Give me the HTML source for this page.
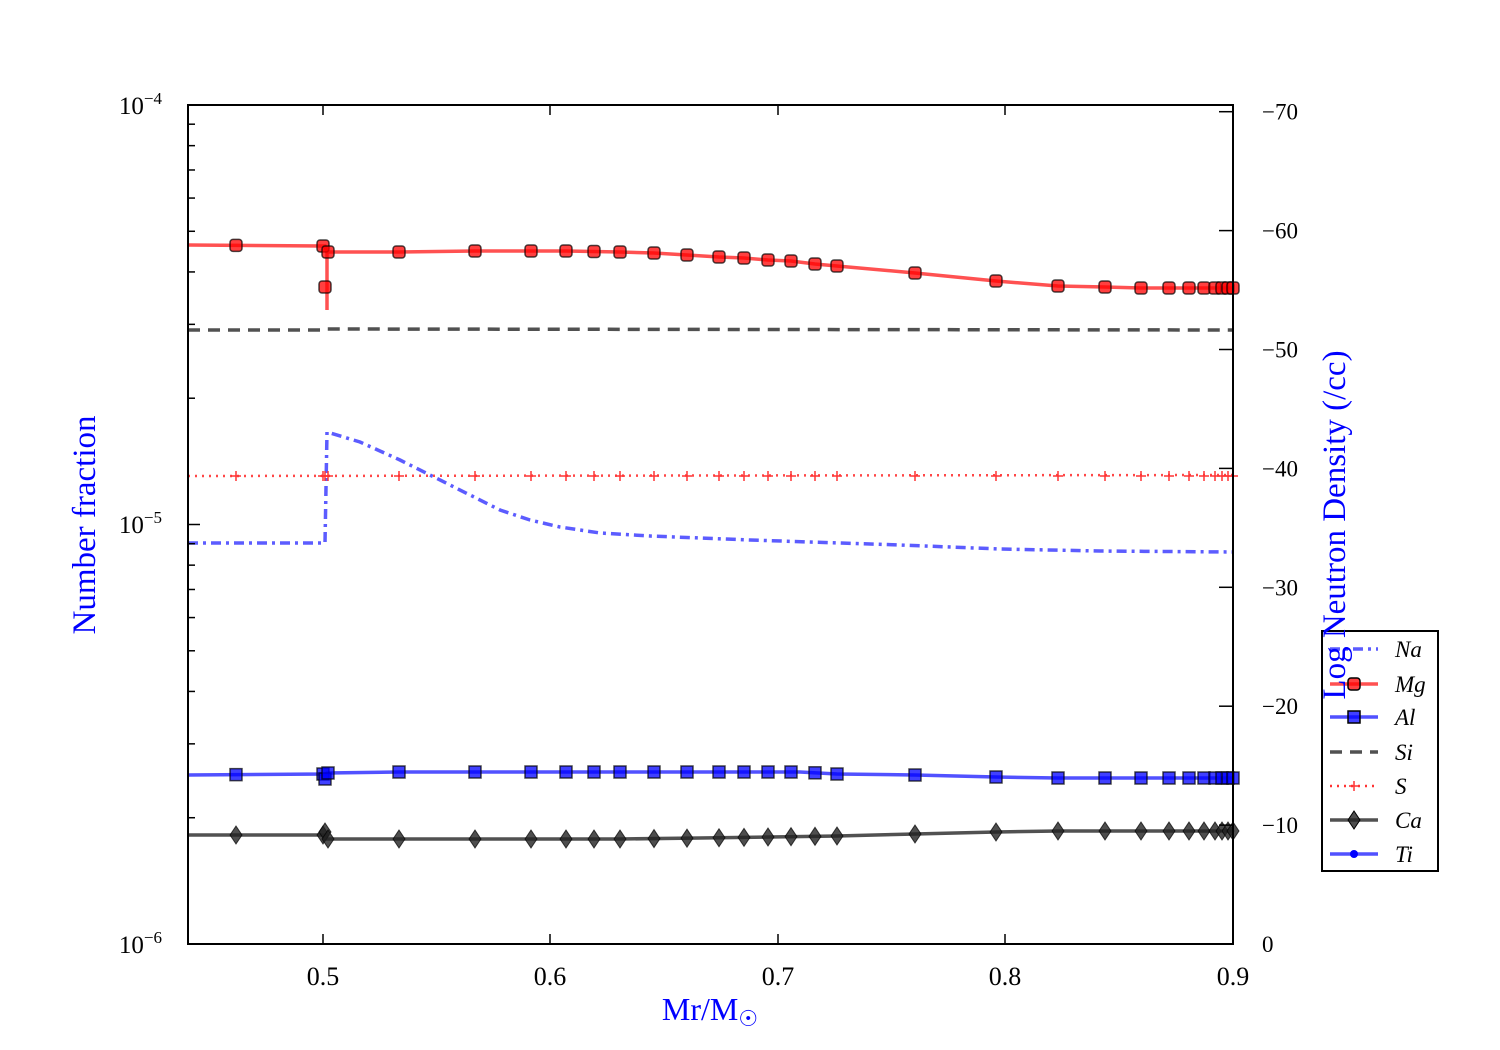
<!DOCTYPE html>
<html><head><meta charset="utf-8"><style>
html,body{margin:0;padding:0;background:#fff;}
svg{display:block;font-family:"Liberation Serif",serif;}
</style></head><body>
<svg id="s" width="1500" height="1050" xmlns="http://www.w3.org/2000/svg">
<g id="data"></g>
<rect x="188" y="105" width="1045" height="839" fill="none" stroke="#000" stroke-width="2"/>
<g id="ticks" stroke="#000" stroke-width="1.5"></g>
<g font-size="26" text-anchor="middle">
<text x="323" y="985">0.5</text><text x="550" y="985">0.6</text><text x="778" y="985">0.7</text><text x="1005" y="985">0.8</text><text x="1233" y="985">0.9</text>
</g>
<g font-size="25" text-anchor="end">
<text x="162" y="114">10<tspan font-size="17" dy="-10">−4</tspan></text>
<text x="162" y="533">10<tspan font-size="17" dy="-10">−5</tspan></text>
<text x="162" y="953">10<tspan font-size="17" dy="-10">−6</tspan></text>
</g>
<g font-size="23" id="rl"></g>
<text x="95" y="525" font-size="33" fill="#0000ff" text-anchor="middle" transform="rotate(-90 95 525)">Number fraction</text>
<g id="leg"></g>
<text x="1345" y="525" font-size="33" fill="#0000ff" text-anchor="middle" transform="rotate(-90 1345 525)">Log Neutron Density (/cc)</text>
<text x="710" y="1020" font-size="32" fill="#0000ff" text-anchor="middle">Mr/M<tspan font-size="22" dy="6">☉</tspan></text>
</svg>
<script>
const NS="http://www.w3.org/2000/svg";
function el(p,t,a){const e=document.createElementNS(NS,t);for(const k in a)e.setAttribute(k,a[k]);p.appendChild(e);return e;}
const D=document.getElementById('data'),T=document.getElementById('ticks'),R=document.getElementById('rl'),L=document.getElementById('leg');
[323,550,778,1005,1233].forEach(x=>{el(T,'line',{x1:x,y1:944,x2:x,y2:934});el(T,'line',{x1:x,y1:105,x2:x,y2:115});});
for(let d=-6;d<-4;d++)for(let m=1;m<10;m++){const v=Math.log10(m)+d+6;const y=944-419.5*v;const len=m==1?12:7;el(T,'line',{x1:188,y1:y,x2:188+len,y2:y});}
el(T,'line',{x1:188,y1:105,x2:200,y2:105});
for(let i=0;i<=7;i++){const y=944-118.9*i;el(T,'line',{x1:1233,y1:y,x2:1219,y2:y});const t=el(R,'text',{x:1262,y:y+8});t.textContent=i==0?'0':'−'+(i*10);}
const xs=[236,323,325,328,399,475,531,566,594,620,654,687,719,744,768,791,815,837,915,996,1058,1105,1141,1169,1189,1204,1215,1222,1228,1233];
function interp(pts,x){for(let i=0;i<pts.length-1;i++){if(x>=pts[i][0]&&x<=pts[i+1][0]){const t=(x-pts[i][0])/(pts[i+1][0]-pts[i][0]||1);return pts[i][1]+t*(pts[i+1][1]-pts[i][1]);}}return pts[pts.length-1][1];}
function path(pts,a){el(D,'polyline',Object.assign({points:pts.map(p=>p.join(',')).join(' '),fill:'none'},a));}
path([[188,330],[325,330],[327,329],[1233,330]],{stroke:'#333',"stroke-width":3.5,"stroke-dasharray":"12,8",opacity:.85});
path([[188,543],[325,543],[327,432],[360,442],[400,460],[430,475],[470,495],[500,510],[530,520],[560,527],[600,533],[650,536],[750,540],[900,545],[1000,549],[1100,551],[1233,552]],{stroke:'#3333ff',"stroke-width":3.5,"stroke-dasharray":"10,5,3,5",opacity:.8});
path([[188,476],[1233,475]],{stroke:'#ff3333',"stroke-width":2.5,"stroke-dasharray":"2,5",opacity:.9});
xs.forEach(x=>{const y=476;el(D,'path',{d:`M${x-5},${y}h10M${x},${y-5}v10`,stroke:'#f33',"stroke-width":1.5});});
const mg=[[188,245],[323,246],[325,246],[327,252],[399,252],[475,251],[566,251],[620,252],[654,253],[687,255],[719,257],[744,258],[768,260],[791,261],[815,264],[837,266],[915,273],[996,281],[1058,286],[1105,287],[1141,288],[1233,288]];
path(mg,{stroke:'#ff3333',"stroke-width":3.5,opacity:.85});
path([[327,252],[327,310]],{stroke:'#ff3333',"stroke-width":3.5,opacity:.85});
xs.forEach(x=>{let y=interp(mg,x);if(x==325)y=287;if(x==323)y=246;el(D,'rect',{x:x-6,y:y-6,width:12,height:12,rx:3,fill:'#ff0000',"fill-opacity":.75,stroke:'#000',"stroke-opacity":.7,"stroke-width":1.5});});
const al=[[188,775],[325,774],[327,773],[399,772],[800,772],[837,774],[915,775],[996,777],[1058,778],[1233,778]];
path(al,{stroke:'#3333ff',"stroke-width":3.5,opacity:.85});
xs.forEach(x=>{let y=interp(al,x);if(x==325)y=779;el(D,'rect',{x:x-6,y:y-6,width:12,height:12,fill:'#0000ff',"fill-opacity":.75,stroke:'#000',"stroke-opacity":.7,"stroke-width":1.5});});
const ca=[[188,835],[325,835],[327,839],[620,839],[700,838],[837,836],[915,834],[996,832],[1058,831],[1233,831]];
path(ca,{stroke:'#333',"stroke-width":3.5,opacity:.85});
xs.forEach(x=>{let y=interp(ca,x);if(x==325)y=832;el(D,'path',{d:`M${x},${y-9}L${x+6},${y}L${x},${y+9}L${x-6},${y}Z`,fill:'#222',"fill-opacity":.8,stroke:'#000',"stroke-opacity":.7,"stroke-width":1});});
el(L,'rect',{x:1322,y:631,width:116,height:240,fill:'#fff',stroke:'#000',"stroke-width":2});
const items=[['Na',649],['Mg',684],['Al',717],['Si',752],['S',786],['Ca',820],['Ti',854]];
items.forEach(([n,y],i)=>{
 const x1=1330,x2=1378,cx=1354;
 if(i==0)el(L,'line',{x1,y1:y,x2,y2:y,stroke:'#3333ff',"stroke-width":3.5,"stroke-dasharray":"10,5,3,5",opacity:.8});
 if(i==1){el(L,'line',{x1,y1:y,x2,y2:y,stroke:'#f33',"stroke-width":3.5,opacity:.85});el(L,'rect',{x:cx-6,y:y-6,width:12,height:12,rx:3,fill:'#f00',"fill-opacity":.75,stroke:'#000',"stroke-width":1.5});}
 if(i==2){el(L,'line',{x1,y1:y,x2,y2:y,stroke:'#33f',"stroke-width":3.5,opacity:.85});el(L,'rect',{x:cx-6,y:y-6,width:12,height:12,fill:'#00f',"fill-opacity":.75,stroke:'#000',"stroke-width":1.5});}
 if(i==3)el(L,'line',{x1,y1:y,x2,y2:y,stroke:'#333',"stroke-width":3.5,"stroke-dasharray":"12,8",opacity:.85});
 if(i==4){el(L,'line',{x1,y1:y,x2,y2:y,stroke:'#f33',"stroke-width":2.5,"stroke-dasharray":"2,5"});el(L,'path',{d:`M${cx-5},${y}h10M${cx},${y-5}v10`,stroke:'#f33',"stroke-width":1.5});}
 if(i==5){el(L,'line',{x1,y1:y,x2,y2:y,stroke:'#333',"stroke-width":3.5,opacity:.85});el(L,'path',{d:`M${cx},${y-9}L${cx+6},${y}L${cx},${y+9}L${cx-6},${y}Z`,fill:'#222',"fill-opacity":.8,stroke:'#000',"stroke-width":1});}
 if(i==6){el(L,'line',{x1,y1:y,x2,y2:y,stroke:'#33f',"stroke-width":3.5,opacity:.85});el(L,'circle',{cx,cy:y,r:4,fill:'#00f'});}
 const t=el(L,'text',{x:1395,y:y+8,"font-size":23,"font-style":"italic"});t.textContent=n;
});
</script>
</body></html>
